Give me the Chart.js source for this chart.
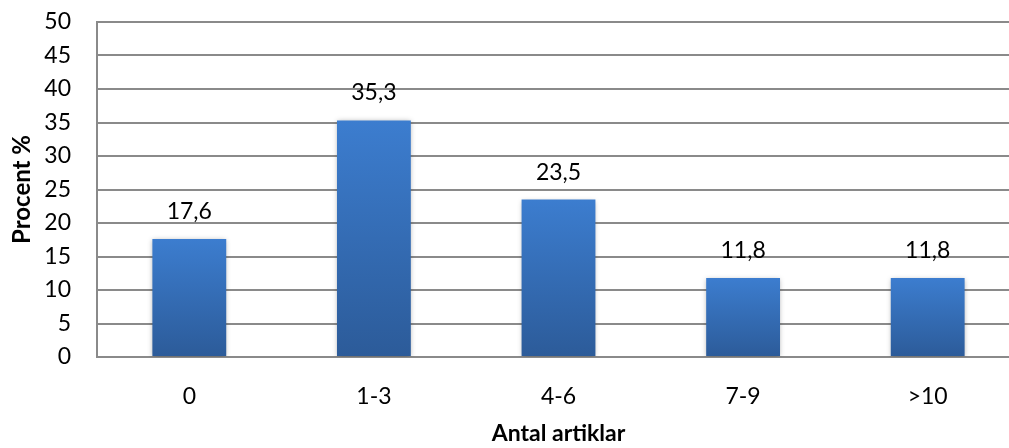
<!DOCTYPE html>
<html>
<head>
<meta charset="utf-8">
<script src="https://cdn.jsdelivr.net/npm/chart.js@4.4.1/dist/chart.umd.min.js"></script>
<style>
  html, body { margin: 0; padding: 0; background: #fff; overflow: hidden; }
  #wrap { position: relative; width: 1022px; height: 448px; }
</style>
</head>
<body>
<div id="wrap"><canvas id="chart"></canvas></div>
<script>
// data
const categories = ['0', '1-3', '4-6', '7-9', '>10'];
const percentValues = [17.6, 35.3, 23.5, 11.8, 11.8];
const xTitle = 'Antal artiklar';
const yTitle = 'Procent %';

const FONT = 'Lato, "Open Sans", sans-serif';
const GRID = '#8a8a8a';

// vertical gradient per bar: lighter at the top, darker at the base
function barGradient(ctx) {
  const chart = ctx.chart;
  if (!chart.chartArea || ctx.parsed == null) return '#3570bb';
  const y = chart.scales.y;
  const top = y.getPixelForValue(ctx.parsed.y);
  const base = y.getPixelForValue(0);
  const g = chart.ctx.createLinearGradient(0, top, 0, base);
  g.addColorStop(0, '#3c7dcf');
  g.addColorStop(1, '#2c5b99');
  return g;
}

// soft shadow behind the bars
const barShadow = {
  id: 'barShadow',
  beforeDatasetsDraw(chart) {
    const c = chart.ctx;
    c.save();
    c.shadowColor = 'rgba(0,0,0,0.30)';
    c.shadowBlur = 5;
    c.shadowOffsetX = 0;
    c.shadowOffsetY = 1;
  },
  afterDatasetsDraw(chart) { chart.ctx.restore(); }
};

// value labels above the bars, decimal comma
const valueLabels = {
  id: 'valueLabels',
  afterDatasetsDraw(chart) {
    const c = chart.ctx;
    const meta = chart.getDatasetMeta(0);
    c.save();
    c.font = '23px ' + FONT;
    c.fillStyle = '#000';
    c.textAlign = 'center';
    c.textBaseline = 'alphabetic';
    meta.data.forEach((bar, i) => {
      const txt = percentValues[i].toFixed(1).replace('.', ',');
      c.fillText(txt, bar.x, bar.y - 20);
    });
    c.restore();
  }
};

new Chart(document.getElementById('chart'), {
  type: 'bar',
  data: {
    labels: categories,
    datasets: [{
      data: percentValues,
      backgroundColor: barGradient,
      borderWidth: 0,
      barPercentage: 0.8,
      categoryPercentage: 0.5
    }]
  },
  options: {
    responsive: true,
    maintainAspectRatio: false,
    animation: false,
    layout: { padding: { top: 22, right: 2, left: 0, bottom: 0 } },
    plugins: { legend: { display: false }, tooltip: { enabled: false } },
    scales: {
      x: {
        grid: { display: false, drawTicks: false },
        border: { display: true, color: GRID, width: 2 },
        ticks: { color: '#000', font: { family: FONT, size: 23 }, padding: 26 },
        title: { display: true, text: xTitle, color: '#000', font: { family: FONT, size: 23, weight: 'bold' }, padding: { top: 0, bottom: 1 } },
        afterFit: s => { s.height = 91; }
      },
      y: {
        min: 0, max: 50,
        ticks: { stepSize: 5, color: '#000', font: { family: FONT, size: 23 }, padding: 26 },
        grid: { color: GRID, lineWidth: 2, drawTicks: false },
        border: { display: true, color: GRID, width: 2 },
        title: { display: true, text: yTitle, color: '#000', font: { family: FONT, size: 24, weight: 'bold' }, padding: { top: 8, bottom: 0 } },
        afterFit: s => { s.width = 97; s.paddingTop = 0; s.paddingBottom = 0; }
      }
    }
  },
  plugins: [barShadow, valueLabels]
});
</script>
</body>
</html>
